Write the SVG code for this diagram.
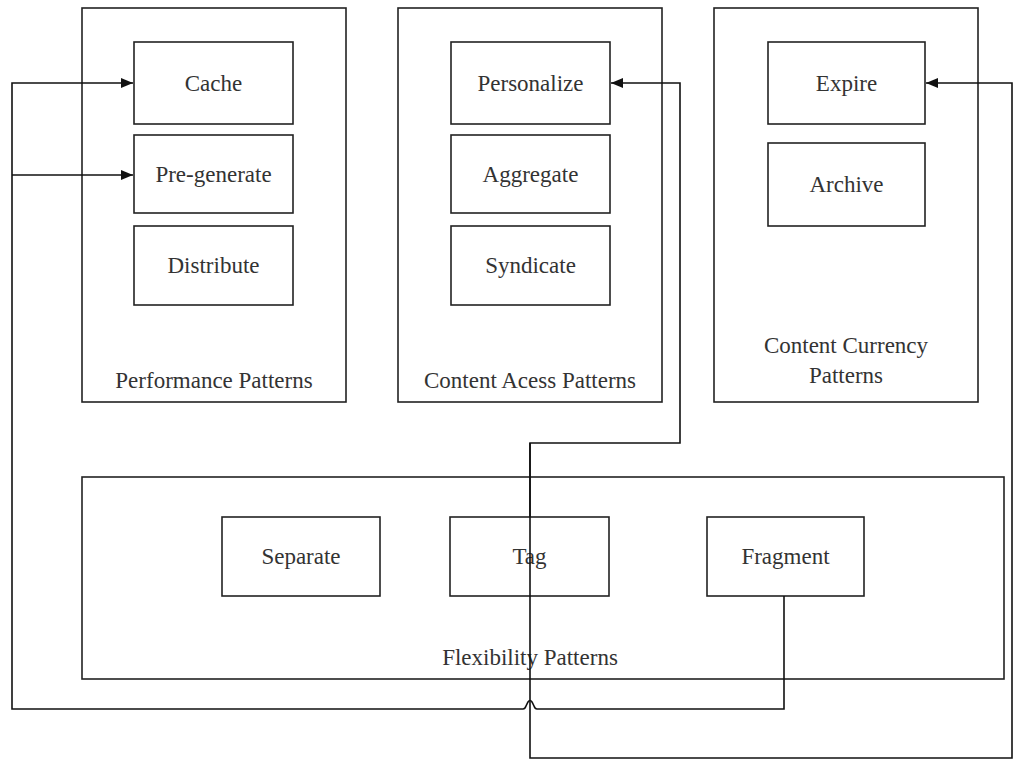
<svg xmlns="http://www.w3.org/2000/svg" width="1013" height="761" viewBox="0 0 1013 761">
<style>
.c{fill:none;stroke:#222;stroke-width:1.6}
.b{fill:#fff;stroke:#222;stroke-width:1.6}
.t{font-family:"Liberation Serif",serif;font-size:23px;fill:#333;text-anchor:middle}
.l{fill:none;stroke:#111;stroke-width:1.6}
</style>
<defs>
<marker id="ah" viewBox="0 0 12 10" refX="12" refY="5" markerWidth="12" markerHeight="10" markerUnits="userSpaceOnUse" orient="auto">
<path d="M0,0 L12,5 L0,10 z" fill="#111"/>
</marker>
</defs>
<rect width="1013" height="761" fill="#fff"/>
<g id="performance">
<rect class="c" x="82" y="8" width="264" height="394"/>
<text class="t" x="214" y="388">Performance Patterns</text>
</g>
<g id="cache"><rect class="b" x="134" y="42" width="159" height="82"/><text class="t" x="213.5" y="91">Cache</text></g>
<g id="pregenerate"><rect class="b" x="134" y="135" width="159" height="78"/><text class="t" x="213.5" y="182">Pre-generate</text></g>
<g id="distribute"><rect class="b" x="134" y="226" width="159" height="79"/><text class="t" x="213.5" y="273">Distribute</text></g>

<g id="access">
<rect class="c" x="398" y="8" width="264" height="394"/>
<text class="t" x="530" y="388">Content Acess Patterns</text>
</g>
<g id="personalize"><rect class="b" x="451" y="42" width="159" height="82"/><text class="t" x="530.5" y="91">Personalize</text></g>
<g id="aggregate"><rect class="b" x="451" y="135" width="159" height="78"/><text class="t" x="530.5" y="182">Aggregate</text></g>
<g id="syndicate"><rect class="b" x="451" y="226" width="159" height="79"/><text class="t" x="530.5" y="273">Syndicate</text></g>

<g id="currency">
<rect class="c" x="714" y="8" width="264" height="394"/>
<text class="t" x="846" y="353">Content Currency</text>
<text class="t" x="846" y="383">Patterns</text>
</g>
<g id="expire"><rect class="b" x="768" y="42" width="157" height="82"/><text class="t" x="846.5" y="91">Expire</text></g>
<g id="archive"><rect class="b" x="768" y="143" width="157" height="83"/><text class="t" x="846.5" y="192">Archive</text></g>

<g id="flexibility">
<rect class="c" x="82" y="477" width="922" height="202"/>
<text class="t" x="530" y="665">Flexibility Patterns</text>
</g>
<g id="separate"><rect class="b" x="222" y="517" width="158" height="79"/><text class="t" x="301" y="564">Separate</text></g>
<g id="tag"><rect class="b" x="450" y="517" width="159" height="79"/><text class="t" x="529.5" y="564">Tag</text></g>
<g id="fragment"><rect class="b" x="707" y="517" width="157" height="79"/><text class="t" x="785.5" y="564">Fragment</text></g>

<g id="connectors">
<path class="l" d="M530,517 V443 H680 V83 H611" marker-end="url(#ah)"/>
<path class="l" d="M530,443 V758 H1012 V83 H926" marker-end="url(#ah)"/>
<path class="l" d="M784,596 V709 H537 Q535,709 534,706 L532,702 Q530,699 528,702 L526,706 Q525,709 523,709 H12 V83 H133" marker-end="url(#ah)"/>
<path class="l" d="M12,175 H133" marker-end="url(#ah)"/>
</g>
</svg>
